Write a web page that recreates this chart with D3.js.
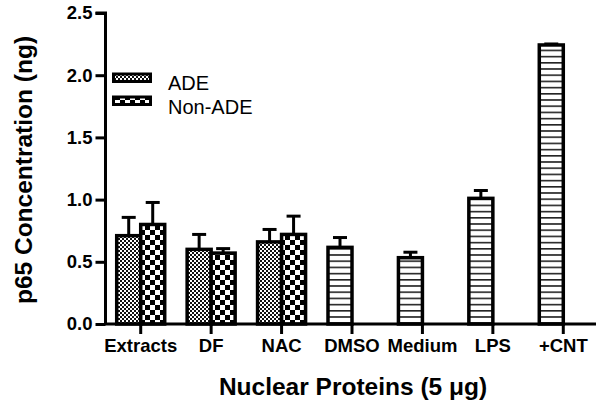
<!DOCTYPE html>
<html>
<head>
<meta charset="utf-8">
<script src="https://cdn.jsdelivr.net/npm/d3@7"></script>
<style>
  html, body { margin: 0; padding: 0; background: #fff; }
  svg { display: block; }
  text { font-family: "Liberation Sans", Arial, sans-serif; fill: #000; }
</style>
</head>
<body>
<svg id="chart" width="604" height="406"></svg>
<script>
// ---- data ----
const categories = ["Extracts", "DF", "NAC", "DMSO", "Medium", "LPS", "+CNT"];
const adeValues    = [0.71, 0.60, 0.66, null, null, null, null];
const adeErrors    = [0.147, 0.12, 0.10, null, null, null, null];
const nonAdeValues = [0.80, 0.57, 0.72, null, null, null, null];
const nonAdeErrors = [0.177, 0.036, 0.147, null, null, null, null];
const controlValues = [null, null, null, 0.616, 0.533, 1.01, 2.243];
const controlErrors = [null, null, null, 0.079, 0.044, 0.063, 0.008];
const yTicks = [0.0, 0.5, 1.0, 1.5, 2.0, 2.5];
const legendLabels = ["ADE", "Non-ADE"];
const yTitle = "p65 Concentration (ng)";
const xTitle = "Nuclear Proteins (5 \u03BCg)";

// ---- layout ----
const svg = d3.select("#chart");
const x0 = 105.5, x1end = 598.5, yTop = 13, yBottom = 324;

const x = d3.scaleBand().domain(categories).range([x0, x1end]).padding(0);
const y = d3.scaleLinear().domain([0, 2.5]).range([yBottom, yTop]);
const sub = d3.scaleBand().domain(["ADE", "Non-ADE"]).range([-24, 24]).padding(0);

// ---- patterns ----
const defs = svg.append("defs");
const pFine = defs.append("pattern").attr("id", "fine").attr("patternUnits", "userSpaceOnUse")
  .attr("width", 4).attr("height", 4);
pFine.append("rect").attr("width", 4).attr("height", 4).attr("fill", "#fff");
pFine.append("rect").attr("x", 0).attr("y", 0).attr("width", 2).attr("height", 2).attr("fill", "#111");
pFine.append("rect").attr("x", 2).attr("y", 2).attr("width", 2).attr("height", 2).attr("fill", "#111");

const pBig = defs.append("pattern").attr("id", "big").attr("patternUnits", "userSpaceOnUse")
  .attr("width", 10).attr("height", 10);
pBig.append("rect").attr("width", 10).attr("height", 10).attr("fill", "#fff");
pBig.append("rect").attr("x", 0).attr("y", 0).attr("width", 5).attr("height", 5).attr("fill", "#000");
pBig.append("rect").attr("x", 5).attr("y", 5).attr("width", 5).attr("height", 5).attr("fill", "#000");

const pStripe = defs.append("pattern").attr("id", "stripe").attr("patternUnits", "userSpaceOnUse")
  .attr("width", 6).attr("height", 6.2);
pStripe.append("rect").attr("width", 6).attr("height", 6.2).attr("fill", "#fff");
pStripe.append("rect").attr("x", 0).attr("y", 0).attr("width", 6).attr("height", 1.6).attr("fill", "#222");

// ---- bars ----
function series(values, errors, key, fill) {
  return categories.map((c, i) => ({ cat: c, v: values[i], e: errors[i], key, fill }))
    .filter(d => d.v != null);
}
const bars = [
  ...series(adeValues, adeErrors, "ADE", "url(#fine)"),
  ...series(nonAdeValues, nonAdeErrors, "Non-ADE", "url(#big)"),
  ...series(controlValues, controlErrors, "ADE", "url(#stripe)")
];

const bw = sub.bandwidth();
const g = svg.append("g");
bars.forEach(d => {
  const cx = x(d.cat) + x.bandwidth() / 2 + sub(d.key) + bw / 2;
  if (d.e) {
    g.append("line").attr("x1", cx).attr("x2", cx).attr("y1", y(d.v)).attr("y2", y(d.v + d.e))
      .attr("stroke", "#000").attr("stroke-width", 3);
    g.append("line").attr("x1", cx - 7).attr("x2", cx + 7).attr("y1", y(d.v + d.e)).attr("y2", y(d.v + d.e))
      .attr("stroke", "#000").attr("stroke-width", 3);
  }
});
g.selectAll("rect.bar").data(bars).join("rect")
  .attr("class", "bar")
  .attr("x", d => x(d.cat) + x.bandwidth() / 2 + sub(d.key))
  .attr("y", d => y(d.v))
  .attr("width", bw)
  .attr("height", d => y(0) - y(d.v))
  .attr("fill", d => d.fill)
  .attr("stroke", "#000")
  .attr("stroke-width", 3.5);

// ---- axes ----
const yAxis = svg.append("g").attr("transform", `translate(${x0},0)`)
  .call(d3.axisLeft(y).tickValues(yTicks).tickFormat(d3.format(".1f")).tickSize(10).tickPadding(3));
yAxis.select(".domain").attr("stroke-width", 3).attr("d", `M-10,${yTop}H0V${yBottom}`);
yAxis.selectAll(".tick line").attr("stroke-width", 3);
yAxis.selectAll(".tick text").attr("font-size", 18.5).attr("font-weight", "bold")
  .attr("font-family", "Liberation Sans, Arial, sans-serif");

const xAxis = svg.append("g").attr("transform", `translate(0,${yBottom})`)
  .call(d3.axisBottom(x).tickSize(10).tickPadding(5));
xAxis.select(".domain").attr("stroke-width", 3).attr("d", `M${x0 - 1.5},0H596`);
xAxis.selectAll(".tick line").attr("stroke-width", 3);
xAxis.selectAll(".tick text").attr("font-size", 18.5).attr("font-weight", "bold")
  .attr("font-family", "Liberation Sans, Arial, sans-serif").attr("dy", "0.71em");

// ---- titles ----
svg.append("text").attr("transform", "translate(32,170) rotate(-90)")
  .attr("text-anchor", "middle").attr("font-size", 24.5).attr("font-weight", "bold").text(yTitle);
svg.append("text").attr("x", 353).attr("y", 395)
  .attr("text-anchor", "middle").attr("font-size", 24.5).attr("font-weight", "bold").text(xTitle);

// ---- legend ----
const legendFills = ["url(#fine)", "url(#big)"];
const leg = svg.append("g");
legendLabels.forEach((lab, i) => {
  leg.append("rect").attr("x", 113.5).attr("y", 74 + i * 23).attr("width", 37).attr("height", 7.5)
    .attr("fill", legendFills[i]).attr("stroke", "#000").attr("stroke-width", 3);
  leg.append("text").attr("x", 168).attr("y", 90 + i * 24).attr("font-size", 20).text(lab);
});
</script>
</body>
</html>
